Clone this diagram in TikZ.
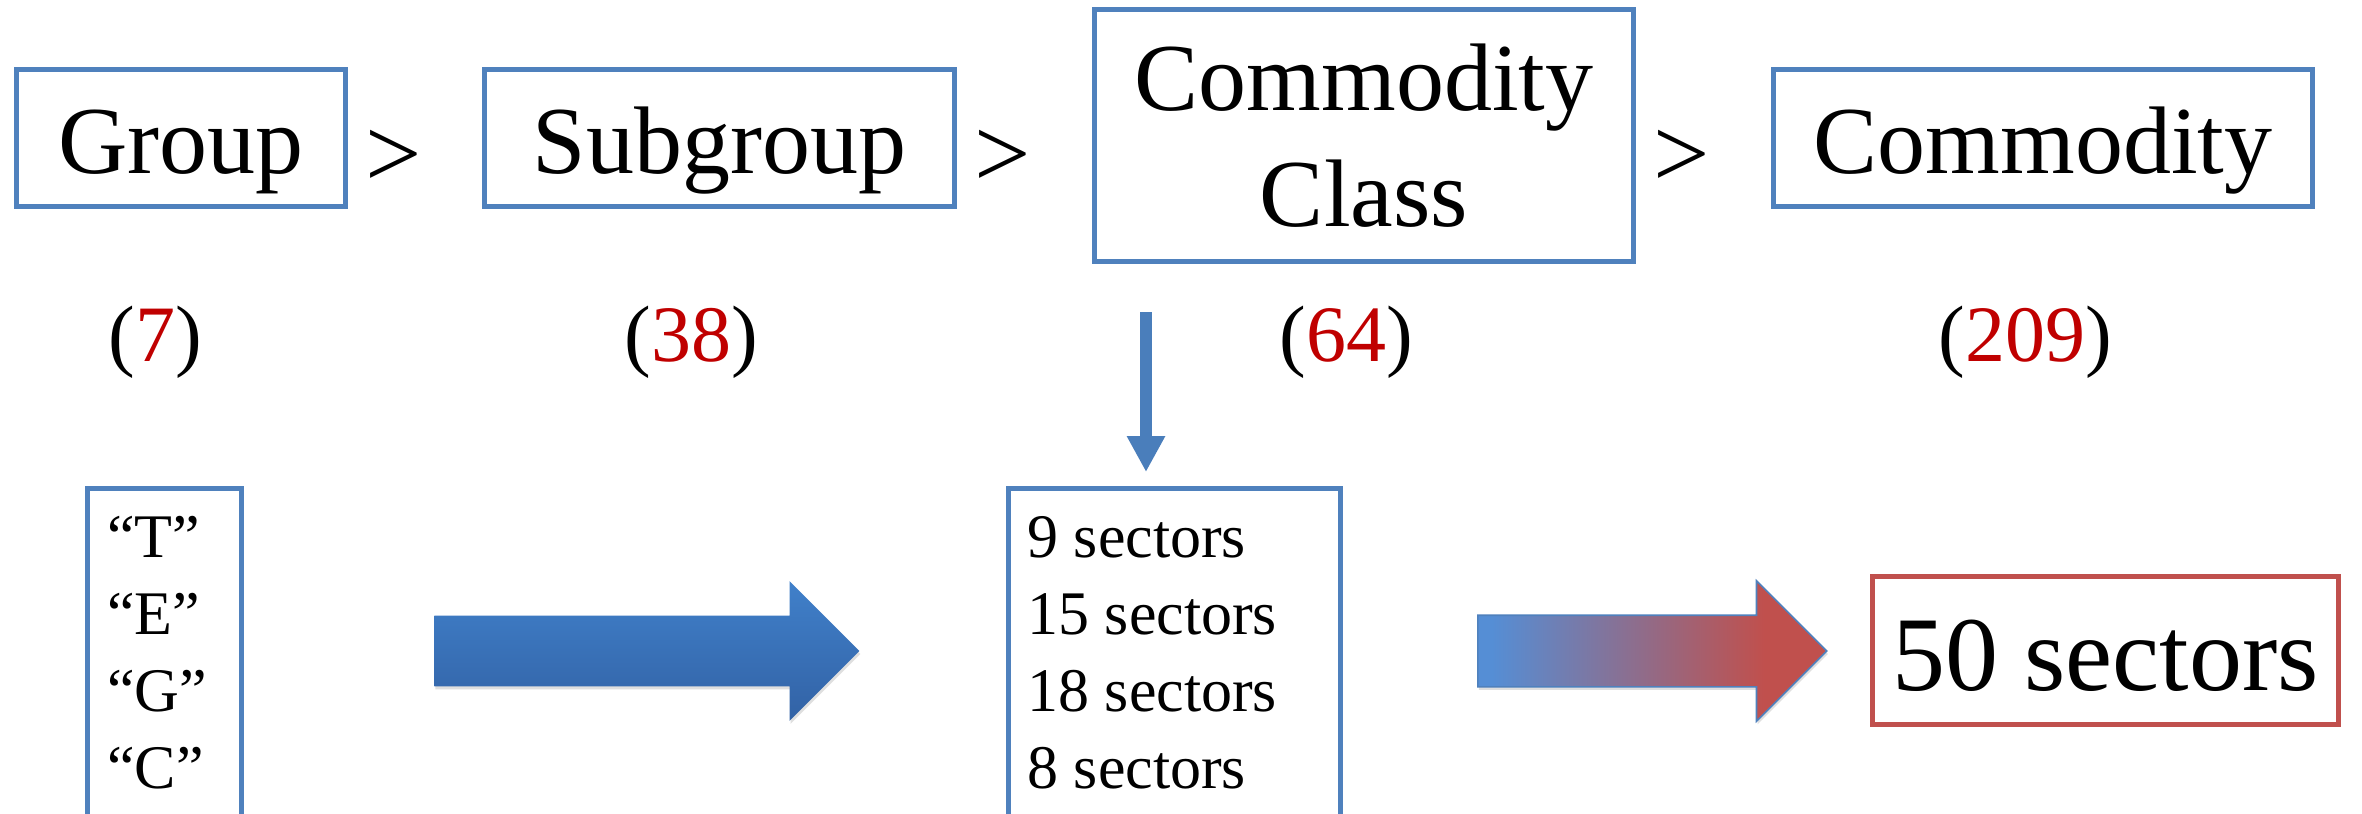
\documentclass[tikz,border=0pt]{standalone}
\usepackage{fontspec}
\setmainfont{Liberation Serif}
\usetikzlibrary{shapes.arrows,shadows,arrows.meta,calc}
\definecolor{boxblue}{RGB}{79,129,189}
\definecolor{boxred}{RGB}{192,80,77}
\definecolor{numred}{RGB}{192,0,0}
\definecolor{arrblue}{RGB}{85,142,213}
\definecolor{arrred}{RGB}{192,80,77}
\definecolor{dblue}{RGB}{74,126,187}
\definecolor{topblue}{RGB}{64,128,202}
\definecolor{botblue}{RGB}{50,98,165}
\pgfdeclarehorizontalshading{bluered}{100bp}{color(0bp)=(arrblue); color(27bp)=(arrblue); color(66bp)=(arrred); color(100bp)=(arrred)}
\begin{document}
\begin{tikzpicture}[x=0.5pt,y=-0.5pt,
  bigbox/.style={draw=boxblue, line width=2.5pt, inner sep=0pt, align=center},
  bigfont/.style={font=\fontsize{48pt}{58pt}\selectfont},
  lbl/.style={anchor=base, inner sep=0pt, font=\fontsize{40pt}{48pt}\selectfont},
  gtsign/.style={anchor=base, inner sep=0pt, font=\fontsize{50pt}{60pt}\selectfont},
  listtext/.style={anchor=base west, inner sep=0pt, font=\fontsize{31pt}{38.5pt}\selectfont},
  blockarrow/.style={single arrow, anchor=tail, inner xsep=0pt, inner ysep=17.5pt, minimum width=0pt,
     single arrow head extend=17.25pt, single arrow tip angle=90,
     drop shadow={opacity=0.25, shadow xshift=0.5pt, shadow yshift=-1.5pt}}
]
\clip (0,0) rectangle (2362,814);
\fill[white] (0,0) rectangle (2362,814);

% top row
\node[bigbox, bigfont, minimum width=164.5pt, minimum height=68.5pt, text height=35pt, text depth=0pt] (group) at (181,138) {Group};
\node[bigbox, bigfont, minimum width=235pt, minimum height=68.5pt, text height=35pt, text depth=0pt] (subgroup) at (719.5,138) {Subgroup};
\node[bigbox, bigfont, minimum width=269.5pt, minimum height=126pt] (cclass) at (1364,135.5) {Commodity\\Class};
\node[bigbox, bigfont, minimum width=269.5pt, minimum height=68.5pt, text height=35pt, text depth=0pt] (commodity) at (2043,138) {Commodity};

\node[gtsign] (gt1) at (393.5,187) {>};
\node[gtsign] (gt2) at (1002.5,187) {>};
\node[gtsign] (gt3) at (1682,187) {>};

% counts
\node[lbl] (n7) at (155.5,361) {(\textcolor{numred}{7})};
\node[lbl] (n38) at (691.5,361) {(\textcolor{numred}{38})};
\node[lbl] (n64) at (1346.5,361) {(\textcolor{numred}{64})};
\node[lbl] (n209) at (2025,361) {(\textcolor{numred}{209})};

% bottom row boxes
\node[draw=boxblue, line width=2.5pt, inner sep=0pt, minimum width=77pt, minimum height=180pt, anchor=north] (tegc) at (164.5,485.5) {};
\node[listtext] (tegctext) at (107,557) {\begin{tabular}[t]{@{}l@{}}“T”\\“E”\\“G”\\“C”\end{tabular}};

\node[draw=boxblue, line width=2.5pt, inner sep=0pt, minimum width=166pt, minimum height=180pt, anchor=north] (sectors) at (1174.5,485.5) {};
\node[listtext] (sectorstext) at (1027,557) {\begin{tabular}[t]{@{}l@{}}9 sectors\\15 sectors\\18 sectors\\8 sectors\end{tabular}};

\node[draw=boxred, line width=2.5pt, inner sep=0pt, minimum width=233pt, minimum height=74pt, font=\fontsize{53pt}{60pt}\selectfont, text height=39.5pt, text depth=0pt] (fifty) at (2105.5,650.5) {50 sectors};

% block arrows
\node[blockarrow, top color=topblue, bottom color=botblue, minimum height=212.5pt] (bluearrow) at (434,651) {};
\node[blockarrow, shade, shading=bluered, draw=boxblue, line width=0.8pt, minimum height=174.5pt] (gradarrow) at (1477,651) {};

% down arrow
\coordinate (dstart) at (1146,312);
\draw[dblue, line width=6pt, -{Triangle[width=18pt,length=18pt]}, shorten >=6.75pt] (dstart) -- (dstart |- sectors.north);
\end{tikzpicture}
\end{document}
